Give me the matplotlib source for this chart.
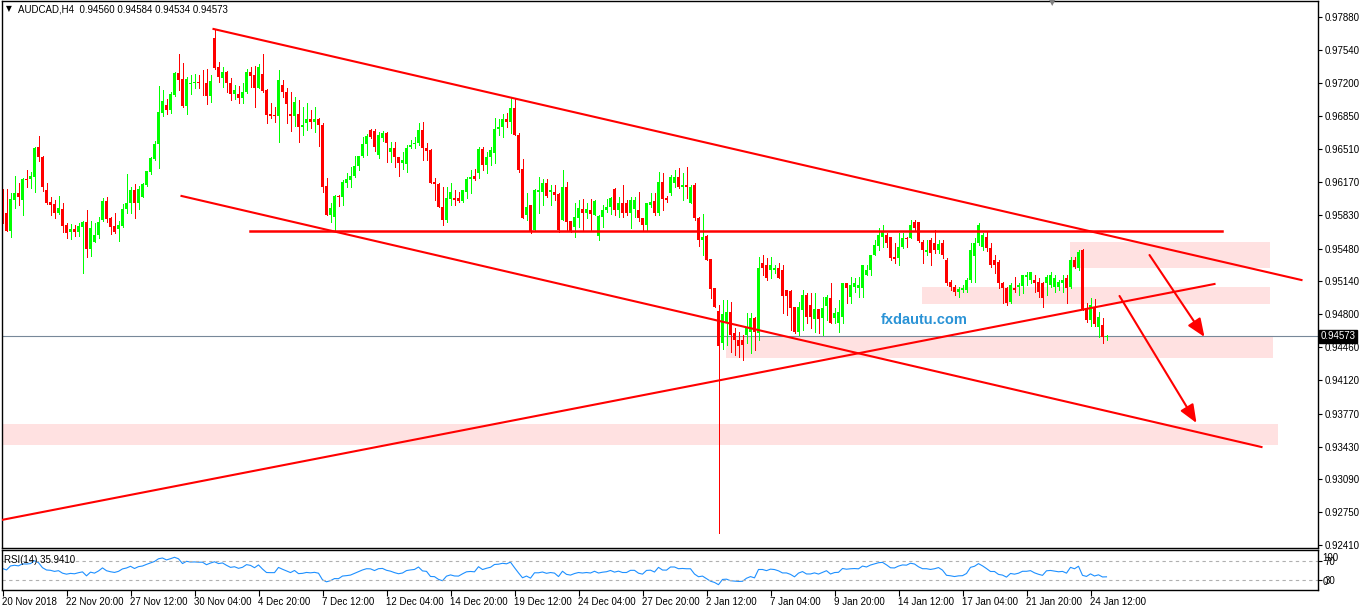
import numpy as np
import matplotlib
matplotlib.use("Agg")
import matplotlib.pyplot as plt
from matplotlib.patches import Rectangle

plt.rcParams["font.family"] = ["Liberation Sans", "DejaVu Sans"]

# ---------- DATA ----------
header = "AUDCAD,H4  0.94560 0.94584 0.94534 0.94573"
last_price = 0.94573
rsi_text = "RSI(14) 35.9410"

# H4 candles, prices x 1e5
opens = [
    96082, 95853, 95667, 95985, 96061, 95985, 96199, 96199, 96226, 96533,
    96433, 96088, 95964, 95943, 95853, 95891, 95726, 95656, 95684, 95656,
    95708, 95757, 95480, 95553, 95622, 95777, 95974, 95801, 95715, 95684,
    95719, 95888, 95950, 96088, 95957, 96019, 96140, 96278, 96406, 96561,
    96882, 96969, 96917, 97069, 97303, 97238, 96962, 97183, 97193, 97207,
    97200, 97200, 97065, 97659, 97359, 97252, 97314, 97193, 97082, 97082,
    97038, 97100, 97307, 97279, 97148, 97290, 97124, 96872, 96862, 96855,
    97180, 97100, 96880, 96850, 96880, 96740, 96780, 96820, 96790, 96820,
    96760, 96129, 95829, 95805, 96026, 96019, 96157, 96192, 96233, 96337,
    96440, 96561, 96710, 96703, 96451, 96623, 96675, 96485, 96520, 96433,
    96364, 96358, 96537, 96561, 96571, 96710, 96520, 96503, 96174, 96150,
    95915, 95777, 95991, 96002, 96002, 95978, 96071, 96199, 96233, 96261,
    96510, 96347, 96433, 96475, 96717, 96737, 96820, 96796, 96934, 96658,
    96302, 95829, 95933, 95674, 96071, 96071, 96157, 96071, 96071, 96047,
    95777, 96122, 95770, 95708, 95794, 95887, 95846, 95880, 95828, 95611,
    95811, 95880, 95915, 96094, 95880, 95949, 95956, 95846, 95887, 95880,
    95794, 95725, 95932, 95973, 95846, 96174, 96008, 96053, 96157, 96226,
    96122, 96139, 95949, 96139, 95794, 95569, 95611, 95369, 95068, 94834,
    94500, 94724, 94820, 94603, 94534, 94534, 94586, 94620, 94758, 94610,
    95328, 95311, 95259, 95259, 95276, 95259, 95052, 95045, 94879, 94620,
    94845, 95000, 94896, 94748, 94852, 94758, 94886, 94966, 94758, 94707,
    94776, 95121, 94983, 95086, 95069, 95069, 95207, 95259, 95414, 95507,
    95604, 95621, 95604, 95397, 95380, 95500, 95587, 95587, 95752, 95759,
    95552, 95449, 95569, 95535, 95466, 95535, 95362, 95138, 95086, 95034,
    95052, 95052, 95155, 95400, 95535, 95500, 95604, 95483, 95362, 95345,
    95120, 95069, 94930, 95069, 95078, 95093, 95189, 95155, 95155, 95138,
    95120, 95120, 95103, 95086, 95086, 95120, 95172, 95086, 95362, 95276,
    95466, 94861, 94740, 94880, 94671, 94690, 94560,
]
highs = [
    96095, 96099, 96054, 96233, 96157, 96213, 96295, 96275, 96537, 96647,
    96440, 96157, 96019, 95985, 96026, 95957, 95750, 95733, 95726, 95743,
    95767, 95881, 95770, 95743, 95812, 96002, 96019, 95812, 95846, 95770,
    95943, 96254, 96123, 96147, 96133, 96157, 96285, 96426, 96596, 97165,
    97124, 97027, 97100, 97314, 97497, 97400, 97255, 97279, 97290, 97279,
    97331, 97338, 97279, 97752, 97417, 97366, 97324, 97245, 97176, 97165,
    97200, 97338, 97366, 97372, 97390, 97497, 97131, 96993, 96944, 97331,
    97230, 97140, 97100, 97050, 97020, 96950, 96990, 96920, 96950, 96830,
    96780, 96209, 95950, 96036, 96040, 96192, 96261, 96330, 96440, 96440,
    96641, 96665, 96717, 96717, 96692, 96700, 96692, 96589, 96589, 96433,
    96485, 96554, 96606, 96641, 96779, 96789, 96572, 96509, 96209, 96157,
    96123, 96123, 96157, 96088, 96071, 96088, 96219, 96295, 96302, 96530,
    96537, 96485, 96537, 96830, 96824, 96875, 96882, 97055, 97027, 96682,
    96406, 96060, 95933, 96095, 96219, 96199, 96199, 96140, 96140, 96054,
    96294, 96174, 95770, 95949, 95984, 95991, 95949, 95999, 95984, 95828,
    95932, 95999, 96018, 96104, 96018, 96139, 95984, 96011, 96018, 96063,
    95794, 95956, 96060, 96053, 96277, 96267, 96025, 96243, 96294, 96312,
    96260, 96322, 96139, 96163, 95804, 95839, 95621, 95369, 95068, 94896,
    94950, 94948, 94931, 94655, 94620, 94586, 94810, 94810, 94776, 95390,
    95414, 95380, 95397, 95310, 95328, 95311, 95052, 95052, 94879, 94931,
    95052, 95017, 95017, 95017, 94852, 94983, 95000, 95121, 94862, 94948,
    95128, 95121, 95190, 95173, 95190, 95311, 95311, 95414, 95570, 95690,
    95725, 95638, 95604, 95535, 95638, 95638, 95604, 95776, 95776, 95759,
    95569, 95569, 95587, 95673, 95570, 95570, 95380, 95155, 95103, 95086,
    95100, 95172, 95535, 95587, 95742, 95638, 95650, 95535, 95414, 95362,
    95138, 95086, 95120, 95189, 95127, 95207, 95241, 95241, 95207, 95172,
    95138, 95207, 95241, 95207, 95155, 95207, 95207, 95397, 95397, 95466,
    95473, 94913, 94965, 94960, 94827, 94757, 94584,
]
lows = [
    95750, 95667, 95605, 95898, 95933, 95829, 96123, 96112, 96071, 96392,
    96081, 95940, 95829, 95795, 95839, 95656, 95591, 95580, 95615, 95611,
    95232, 95398, 95408, 95546, 95587, 95767, 95760, 95632, 95639, 95563,
    95708, 95846, 95846, 95801, 95895, 96019, 96133, 96250, 96399, 96319,
    96858, 96875, 96889, 97062, 97124, 96944, 96875, 97082, 97141, 97141,
    97072, 96975, 97003, 97341, 97210, 97158, 97107, 97020, 97027, 96993,
    96986, 97089, 97158, 96944, 97141, 97107, 96785, 96830, 96796, 96589,
    97050, 96780, 96700, 96750, 96590, 96660, 96710, 96730, 96690, 96540,
    96070, 95829, 95760, 95673, 95922, 95933, 96123, 96123, 96219, 96295,
    96433, 96451, 96623, 96496, 96416, 96600, 96382, 96382, 96330, 96233,
    96302, 96278, 96520, 96520, 96554, 96399, 96399, 96157, 95984, 95915,
    95726, 95760, 95933, 95933, 95967, 95967, 96002, 96054, 96192, 96209,
    96295, 96261, 96347, 96371, 96658, 96641, 96744, 96675, 96658, 96278,
    95795, 95777, 95639, 95674, 95846, 95933, 96019, 95933, 95984, 95656,
    95777, 95673, 95656, 95597, 95708, 95673, 95794, 95673, 95828, 95570,
    95708, 95863, 95839, 95828, 95811, 95811, 95828, 95690, 95811, 95770,
    95673, 95673, 95915, 95828, 95828, 95880, 95966, 96036, 96122, 96104,
    95984, 96001, 95949, 95776, 95507, 95414, 95362, 94965, 94879, 92534,
    94440, 94482, 94413, 94378, 94361, 94327, 94499, 94396, 94430, 94534,
    95207, 95155, 95173, 95230, 95173, 94810, 94793, 94638, 94610, 94586,
    94638, 94707, 94655, 94620, 94603, 94586, 94741, 94707, 94707, 94620,
    94707, 94914, 94914, 95035, 94983, 94983, 95207, 95207, 95414, 95466,
    95500, 95500, 95362, 95328, 95310, 95483, 95500, 95587, 95673, 95552,
    95328, 95414, 95310, 95431, 95440, 95380, 95103, 95050, 95000, 94982,
    95030, 95034, 95138, 95138, 95518, 95466, 95460, 95293, 95224, 95069,
    94914, 94896, 94914, 95034, 94999, 95017, 95103, 95120, 95034, 94975,
    94879, 95000, 95086, 95034, 95050, 95034, 94914, 95069, 95276, 95259,
    94844, 94723, 94680, 94680, 94568, 94506, 94534,
]
closes = [
    95760, 95667, 95992, 96054, 96019, 96202, 96192, 96233, 96527, 96426,
    96123, 95957, 95933, 95853, 95902, 95719, 95639, 95684, 95656, 95715,
    95760, 95480, 95694, 95622, 95757, 95978, 95784, 95708, 95656, 95726,
    95891, 95957, 96088, 95957, 96099, 96150, 96285, 96416, 96564, 96899,
    97013, 96917, 97082, 97303, 97227, 96958, 97238, 97193, 97207, 97193,
    97193, 97062, 97217, 97348, 97255, 97314, 97193, 97079, 97124, 97038,
    97107, 97307, 97269, 97148, 97359, 97117, 96865, 96855, 96855, 97227,
    97100, 96980, 96850, 97000, 96740, 96760, 96820, 96790, 96820, 96760,
    96120, 95829, 95898, 96026, 96012, 96174, 96199, 96233, 96337, 96440,
    96561, 96648, 96641, 96537, 96658, 96675, 96571, 96520, 96433, 96364,
    96399, 96520, 96554, 96579, 96710, 96520, 96496, 96164, 96150, 95915,
    95777, 96002, 96071, 95984, 95974, 96088, 96199, 96219, 96199, 96510,
    96347, 96433, 96503, 96720, 96744, 96820, 96796, 96934, 96658, 96295,
    95795, 95915, 95657, 96088, 96088, 96157, 96026, 96088, 96036, 95674,
    96122, 95759, 95666, 95804, 95897, 95846, 95887, 95839, 95977, 95818,
    95880, 95915, 96008, 95880, 95949, 95846, 95846, 95984, 95984, 95794,
    95725, 95949, 95966, 95846, 96174, 95991, 95984, 96226, 96226, 96122,
    96139, 96122, 96122, 95794, 95569, 95604, 95362, 95058, 94879, 94472,
    94800, 94820, 94586, 94534, 94472, 94482, 94655, 94758, 94620, 95276,
    95276, 95173, 95311, 95276, 95173, 94990, 94990, 94862, 94620, 94879,
    95000, 94776, 94776, 94852, 94748, 94862, 94983, 94707, 94810, 94827,
    95121, 95069, 95104, 95121, 95104, 95311, 95259, 95414, 95518, 95621,
    95656, 95535, 95379, 95369, 95500, 95587, 95576, 95725, 95690, 95562,
    95466, 95466, 95431, 95466, 95528, 95414, 95120, 95086, 95034, 95062,
    95069, 95155, 95466, 95535, 95725, 95621, 95483, 95310, 95310, 95120,
    95069, 94914, 95103, 95052, 95103, 95207, 95207, 95241, 95120, 95034,
    94965, 95189, 95207, 95172, 95138, 95155, 95069, 95362, 95293, 95449,
    94844, 94740, 94900, 94700, 94775, 94565, 94573,
]

time_labels = ["20 Nov 2018", "22 Nov 20:00", "27 Nov 12:00", "30 Nov 04:00",
               "4 Dec 20:00", "7 Dec 12:00", "12 Dec 04:00", "14 Dec 20:00",
               "19 Dec 12:00", "24 Dec 04:00", "27 Dec 20:00", "2 Jan 12:00",
               "7 Jan 04:00", "9 Jan 20:00", "14 Jan 12:00", "17 Jan 04:00",
               "21 Jan 20:00", "24 Jan 12:00"]
label_step = 16  # bars between time labels

price_ticks = [0.97880, 0.97540, 0.97200, 0.96850, 0.96510, 0.96170, 0.95830,
               0.95480, 0.95140, 0.94800, 0.94460, 0.94120, 0.93770, 0.93430,
               0.93090, 0.92750, 0.92410]

# drawn objects as (bar, price)
channel_top = [(52.75, 0.97756), (324.75, 0.95155)]
channel_bottom = [(44.75, 0.96026), (314.75, 0.93425)]
support_line = [(61.75, 0.95663), (304.75, 0.95663)]
rising_line = [(-0.25, 0.92669), (303.0, 0.95114)]
arrow_1 = [(286.75, 0.95414), (300.5, 0.94565)]
arrow_2 = [(279.25, 0.94990), (298.5, 0.93674)]
# (bar_from, bar_to, price_low, price_high)
zones = [
    (266.75, 316.75, 0.95280, 0.95549),
    (229.75, 316.75, 0.94907, 0.95083),
    (180.75, 317.5, 0.94347, 0.94565),
    (-1.0, 318.75, 0.93445, 0.93663),
]
rsi_period = 14

# ---------- PREP ----------
o = np.array(opens) / 1e5
c = np.array(closes) / 1e5
h = np.maximum(np.array(highs) / 1e5, np.maximum(o, c))
l = np.minimum(np.array(lows) / 1e5, np.minimum(o, c))
x = np.arange(len(c))

# RSI(14), Wilder smoothing seeded on first 14 moves
d = np.diff(c)
gain = np.clip(d, 0, None)
loss = np.clip(-d, 0, None)
ag = gain[:rsi_period].mean()
al = loss[:rsi_period].mean()
rsi = [100 - 100 / (1 + ag / al)]
for g, ls in zip(gain, loss):
    ag = (ag * (rsi_period - 1) + g) / rsi_period
    al = (al * (rsi_period - 1) + ls) / rsi_period
    rsi.append(100 - 100 / (1 + ag / al))
rsi = np.array(rsi)

# ---------- FIGURE ----------
W, H = 1362, 607
fig = plt.figure(figsize=(W / 100, H / 100), dpi=100)
fig.patch.set_facecolor("white")
ax = fig.add_axes([2 / W, 1 - 548 / H, 1316 / W, 547 / H])
rsi_ax = fig.add_axes([2 / W, 1 - 590 / H, 1316 / W, 40 / H])
xlim = (-0.125, 328.875)  # 4 px per bar, bodies on whole pixels

# zones
for x0, x1, p0, p1 in zones:
    ax.add_patch(Rectangle((x0, p0), x1 - x0, p1 - p0, fc="#ffe1e1", ec="none", zorder=1))

ax.axhline(last_price, color="#778899", lw=0.8, zorder=1.5)

# candles
col = np.where(c >= o, "#00ff00", "#ff0000")
ax.vlines(x, l, h, colors=col, lw=0.72, zorder=2, antialiased=False)
body = np.abs(c - o)
bh = np.maximum(body, 0.00009)
ax.bar(x, bh, bottom=np.minimum(o, c) - (bh - body) / 2, width=0.75,
       color=col, lw=0, zorder=2, antialiased=False)

# trend lines
for line in [channel_top, channel_bottom, rising_line]:
    ax.plot([p[0] for p in line], [p[1] for p in line], color="#ff0000", lw=1.5, zorder=3)
ax.plot([p[0] for p in support_line], [p[1] for p in support_line], color="#ff0000", lw=1.8, zorder=3)
for arr in [arrow_1, arrow_2]:
    ax.annotate("", xy=arr[1], xytext=arr[0], zorder=3,
                arrowprops=dict(arrowstyle="-|>,head_length=1.1,head_width=0.45",
                                color="#ff0000", lw=1.5, shrinkA=0, shrinkB=0,
                                mutation_scale=10))

ax.text(219.5, 0.9474, "fxdautu.com", color="#2a93d6", fontsize=10.5,
        fontweight="bold", va="center", ha="left", zorder=4)

ax.set_xlim(*xlim)
ax.set_ylim(0.923788, 0.980458)
ax.yaxis.tick_right()
ax.set_yticks(price_ticks)
ax.set_yticklabels([f"{v:.5f}" for v in price_ticks])
ax.tick_params(axis="y", direction="out", length=3, width=0.8, labelsize=7, pad=2)
ax.tick_params(axis="x", bottom=False, labelbottom=False)
for s in ax.spines.values():
    s.set_linewidth(1)

ax.text(1.002, last_price, f"{last_price:.5f}", transform=ax.get_yaxis_transform(),
        ha="left", va="center", fontsize=7, color="white", zorder=5, clip_on=False,
        bbox=dict(boxstyle="square,pad=0.15", fc="black", ec="black"))

# ---------- RSI ----------
rsi_ax.plot(x, rsi, color="#1e90ff", lw=0.8)
for lvl in (70, 30):
    rsi_ax.axhline(lvl, color="#b0b0b0", lw=0.8, ls=(0, (3, 3)))
rsi_ax.set_xlim(*xlim)
rsi_ax.set_ylim(10, 92)
rsi_ax.yaxis.tick_right()
rsi_ax.set_yticks([70, 30])
rsi_ax.set_yticklabels(["70", "30"])
rsi_ax.tick_params(axis="y", direction="out", length=3, width=0.8, labelsize=7, pad=2)
for lbl, lv in (("100", 75), ("0", 26)):
    rsi_ax.text(1.0035, lv, lbl, transform=rsi_ax.get_yaxis_transform(),
                ha="left", va="center", fontsize=7, clip_on=False)
rsi_ax.text(0.5, 72, rsi_text, fontsize=7, va="center", ha="left")

tick_pos = np.arange(len(time_labels)) * label_step
rsi_ax.set_xticks(tick_pos)
rsi_ax.set_xticklabels(time_labels)
rsi_ax.tick_params(axis="x", direction="out", length=4, width=0.8, labelsize=7, pad=1)
for t in rsi_ax.get_xticklabels():
    t.set_ha("left")
for s in rsi_ax.spines.values():
    s.set_linewidth(1)

# header and small markers
fig.text(6 / W, 1 - 9 / H, "\u25bc", fontsize=5.5, va="center", ha="left",
         family=["DejaVu Sans"])
fig.text(18 / W, 1 - 9 / H, header, fontsize=7, va="center", ha="left")
fig.text(1052 / W, 1 - 3 / H, "\u25bc", fontsize=6, color="#808080", va="center",
         ha="center", family=["DejaVu Sans"])

fig.savefig("out.png", dpi=100)
